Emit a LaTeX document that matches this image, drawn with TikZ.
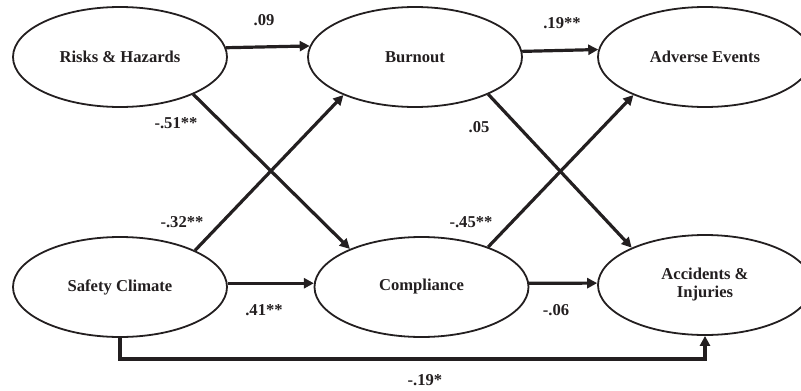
\documentclass[tikz,border=0pt]{standalone}
\usepackage{fontspec}
\setmainfont{Liberation Serif}
\usetikzlibrary{arrows.meta,shapes.geometric}
\definecolor{ink}{HTML}{231F20}
\begin{document}
\begin{tikzpicture}[x=1pt,y=-1pt,
  every node/.style={font=\fontsize{16.6}{19}\selectfont\bfseries, text=ink},
  var/.style={ellipse, draw=ink, line width=1.8pt, minimum width=214pt, minimum height=100pt, inner sep=0pt, align=center},
  arr/.style={draw=ink, line width=3.2pt, -{Triangle[length=10pt,width=10pt]}},
  coef/.style={anchor=base, inner sep=0pt}]
\useasboundingbox (0,0) rectangle (801,391);
\node[var] (rh) at (120,57) {Risks \& Hazards};
\node[var] (bo) at (415,57) {Burnout};
\node[var] (ae) at (705,57) {Adverse Events};
\node[var] (sc) at (120,287) {Safety Climate};
\node[var] (co) at (421.5,287) {Compliance};
\node[var] (ai) at (705,285) {Accidents \&\\[-1pt]Injuries};
% horizontal paths
\draw[arr] (rh.5.5) -- (bo.174.5);
\draw[arr] (bo.3.3) -- (ae.176.8);
\draw[arr] (sc.2) -- (co.178);
\draw[arr] (co.2) -- (ai.179);
% diagonals
\draw[arr] (rh.-27.5) -- (co.152.8);
\draw[arr] (sc.26.3) -- (bo.-152);
\draw[arr] (bo.-27.9) -- (ai.153.7);
\draw[arr] (co.31) -- (ae.-152.2);
% direct path
\draw[arr] (sc.south) -- ++(0,21) -| (ai.south);
% coefficients
\node[coef] (c1) at (264,25.5) {.09};
\node[coef] (c2) at (562,28) {.19**};
\node[coef] (c3) at (176,128) {-.51**};
\node[coef] (c4) at (479,132) {.05};
\node[coef] (c5) at (182,227) {-.32**};
\node[coef] (c6) at (264,315) {.41**};
\node[coef] (c7) at (471,227) {-.45**};
\node[coef] (c8) at (556,315) {-.06};
\node[coef] (c9) at (425,385) {-.19*};
\end{tikzpicture}
\end{document}
